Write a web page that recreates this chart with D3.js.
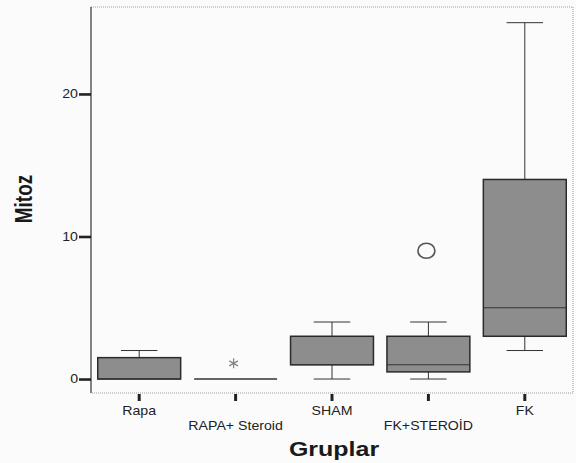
<!DOCTYPE html>
<html>
<head>
<meta charset="utf-8">
<script src="https://cdn.jsdelivr.net/npm/d3@7"></script>
<style>
  body { margin: 0; background: #fbfbfb; }
  svg { display: block; font-family: "Liberation Sans", Arial, sans-serif; }
</style>
</head>
<body>
<div id="chart"></div>
<script>
// Box plot values
const groups = ["Rapa", "RAPA+ Steroid", "SHAM", "FK+STEROİD", "FK"];
const mins    = [0, 0, 0, 0, 2];
const q1s     = [0, 0, 1, 0.5, 3];
const medians = [0, 0, 1, 1, 5];
const q3s     = [1.5, 0, 3, 3, 14];
const maxs    = [2, 0, 4, 4, 25];
const outliers = [
    { group: "RAPA+ Steroid", value: 1.1, kind: "star" },
    { group: "FK+STEROİD", value: 9, kind: "circle" }
];
const yTicks = [0, 10, 20];

const W = 576, H = 463;
const plot = { left: 91, right: 573, top: 7, bottom: 393 };
const stretch = 1.18; // text in the scan is a bit wide

const svg = d3.select("#chart").append("svg")
    .attr("width", W)
    .attr("height", H);

svg.append("rect").attr("width", W).attr("height", H).attr("fill", "#fbfbfb");

const x = d3.scaleBand()
    .domain(groups)
    .range([plot.left, plot.right])
    .paddingInner(0.14)
    .paddingOuter(0.07);

const y = d3.scaleLinear()
    .domain([-0.98, 26.1])
    .range([plot.bottom, plot.top]);

// frame: dotted grey on top/right/bottom, solid on the left
svg.append("path")
    .attr("d", `M${plot.left},${plot.top}H${plot.right}V${plot.bottom}H${plot.left}`)
    .attr("fill", "none")
    .attr("stroke", "#9a9a9a")
    .attr("stroke-width", 1)
    .attr("stroke-dasharray", "1,1");

svg.append("line")
    .attr("x1", plot.left).attr("x2", plot.left)
    .attr("y1", plot.top).attr("y2", plot.bottom)
    .attr("stroke", "#333").attr("stroke-width", 1.2);

// y axis
const yAxis = svg.append("g")
    .attr("transform", `translate(${plot.left},0)`)
    .call(d3.axisLeft(y).tickValues(yTicks).tickSize(12).tickPadding(2));
yAxis.select(".domain").remove();
yAxis.selectAll(".tick line").attr("stroke", "#222").attr("stroke-width", 2.6);
yAxis.selectAll(".tick text")
    .attr("fill", "#222")
    .style("font-size", "12px")
    .attr("x", -13 / stretch)
    .attr("transform", `scale(${stretch},1)`);

// x axis with staggered labels
const xAxis = svg.append("g")
    .attr("transform", `translate(0,${plot.bottom})`)
    .call(d3.axisBottom(x).tickSize(8).tickSizeOuter(0));
xAxis.select(".domain").remove();
xAxis.selectAll(".tick line").attr("y1", 1).attr("stroke", "#222").attr("stroke-width", 3);
xAxis.selectAll(".tick text")
    .attr("fill", "#222")
    .style("font-size", "12px")
    .attr("dy", null)
    .attr("y", (d, i) => i % 2 === 0 ? 22 : 37)
    .attr("transform", `scale(${stretch},1)`);

// boxes
const boxData = groups.map((g, i) => ({
    group: g, min: mins[i], q1: q1s[i], median: medians[i], q3: q3s[i], max: maxs[i]
}));

const bw = x.bandwidth();
const capW = bw * 0.44;

const box = svg.append("g").selectAll("g")
    .data(boxData)
    .join("g")
    .attr("transform", d => `translate(${x(d.group) + bw / 2},0)`);

// whiskers
box.filter(d => d.max > d.q3).append("line")
    .attr("y1", d => y(d.q3)).attr("y2", d => y(d.max))
    .attr("stroke", "#333").attr("stroke-width", 1);
box.filter(d => d.max > d.q3).append("line")
    .attr("x1", -capW / 2).attr("x2", capW / 2)
    .attr("y1", d => y(d.max)).attr("y2", d => y(d.max))
    .attr("stroke", "#333").attr("stroke-width", 1);
box.filter(d => d.min < d.q1).append("line")
    .attr("y1", d => y(d.q1)).attr("y2", d => y(d.min))
    .attr("stroke", "#333").attr("stroke-width", 1);
box.filter(d => d.min < d.q1).append("line")
    .attr("x1", -capW / 2).attr("x2", capW / 2)
    .attr("y1", d => y(d.min)).attr("y2", d => y(d.min))
    .attr("stroke", "#333").attr("stroke-width", 1);

// box body (a flat line when every value is the same)
box.filter(d => d.q3 > d.q1).append("rect")
    .attr("x", -bw / 2)
    .attr("width", bw)
    .attr("y", d => y(d.q3))
    .attr("height", d => y(d.q1) - y(d.q3))
    .attr("fill", "#8d8d8d")
    .attr("stroke", "#2a2a2a")
    .attr("stroke-width", 1.5);

box.append("line")
    .attr("x1", -bw / 2).attr("x2", bw / 2)
    .attr("y1", d => y(d.median)).attr("y2", d => y(d.median))
    .attr("stroke", "#333")
    .attr("stroke-width", d => d.q3 > d.q1 ? 1 : 1.4);

// outliers
const out = svg.append("g").selectAll("g")
    .data(outliers)
    .join("g")
    .attr("transform", d => `translate(${x(d.group) + bw / 2 - 2},${y(d.value)})`);

out.filter(d => d.kind === "circle").append("ellipse")
    .attr("rx", 8.5).attr("ry", 7.5)
    .attr("fill", "none")
    .attr("stroke", "#555")
    .attr("stroke-width", 1.6);

out.filter(d => d.kind === "star").append("path")
    .attr("d", d3.symbol(d3.symbolAsterisk, 70))
    .attr("fill", "none")
    .attr("stroke", "#888")
    .attr("stroke-width", 1.3);

// axis titles
svg.append("text")
    .attr("transform", `translate(334,456) scale(1.25,1)`)
    .attr("text-anchor", "middle")
    .attr("fill", "#1a1a1a")
    .style("font-size", "20px")
    .style("font-weight", "bold")
    .text("Gruplar");

svg.append("text")
    .attr("transform", `translate(32,199) scale(1.25,1) rotate(-90)`)
    .attr("text-anchor", "middle")
    .attr("fill", "#1a1a1a")
    .style("font-size", "19px")
    .style("font-weight", "bold")
    .text("Mitoz");
</script>
</body>
</html>
